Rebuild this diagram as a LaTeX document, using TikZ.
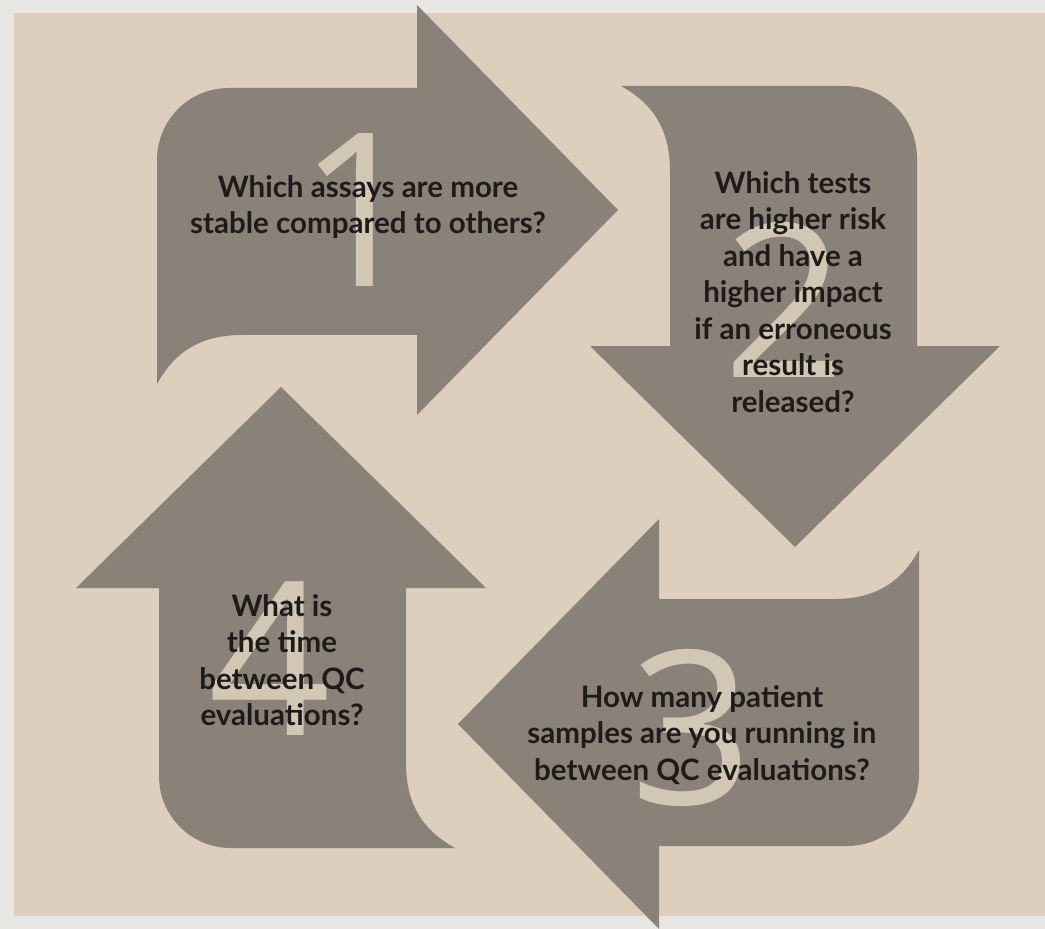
\documentclass[tikz,border=0pt]{standalone}
\usepackage{fontspec}
\setmainfont{Lato}
\newfontfamily\numfont{Open Sans}
\usepackage{xcolor}
\definecolor{bgbeige}{HTML}{DCCFBD}
\definecolor{edgegray}{HTML}{E8E6E3}
\definecolor{arrowgray}{HTML}{8A8279}
\definecolor{numbeige}{HTML}{D2C6B4}
\definecolor{qtext}{HTML}{1E1B18}

\begin{document}
\begin{tikzpicture}[x=0.02cm,y=-0.02cm,
    cyclearrow/.style={fill=arrowgray},
    bignum/.style={inner sep=0pt,text=numbeige,font=\numfont\fontsize{122}{122}\selectfont},
    question/.style={inner sep=0pt,align=center,text=qtext,font=\fontsize{16.8}{20.8}\selectfont\bfseries}]
      \useasboundingbox (0,0) rectangle (1045,929);
      \fill[edgegray] (0,0) rectangle (1045,929);
      \fill[bgbeige] (14,13) rectangle (1045,916);
      % the four arrows, one turned about the middle each time
      \foreach \ang in {0,-90,-180,-270}
        \fill[cyclearrow,shift={(538,467)},rotate=\ang]
          (-381,-83) -- (-381,-307) .. controls (-381,-347) and (-349,-379) .. (-309,-379)
          -- (-121,-379) -- (-121,-462) -- (80,-257) -- (-121,-52) -- (-121,-132)
          -- (-296,-132) .. controls (-345,-132) and (-367,-108) .. (-381,-83) -- cycle;
      \node[bignum] (n1) at (360,210) {1};
      \node[bignum] (n2) at (785,300) {2};
      \node[bignum] (n3) at (692,728) {3};
      \node[bignum] (n4) at (270,659) {4};
      \node[question] (q1) at (368,207) {Which assays are more\\stable compared to others?};
      \node[question] (q2) at (793,292) {Which tests\\are higher risk\\and have a\\higher impact\\if an erroneous\\result is\\released?};
      \node[question] (q3) at (702,735) {How many patient\\samples are you running in\\between QC evaluations?};
      \node[question] (q4) at (282,660) {What is\\the time\\between QC\\evaluations?};
\end{tikzpicture}
\end{document}
